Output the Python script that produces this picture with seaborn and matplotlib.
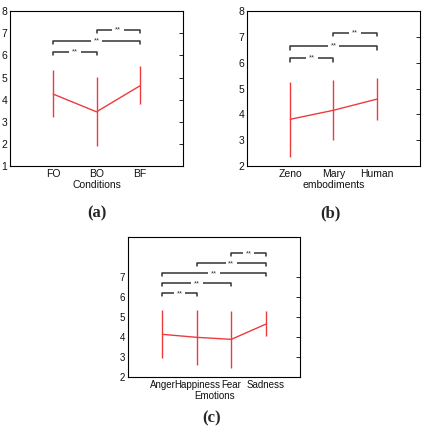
import numpy as np
import pandas as pd
import seaborn as sns
import matplotlib
matplotlib.use('Agg')
import matplotlib.pyplot as plt

# Panel (a)
cond_labels = ['FO', 'BO', 'BF']
cond_mean = [4.25, 3.45, 4.62]
cond_low = [3.2, 1.9, 3.8]
cond_high = [5.32, 5.02, 5.5]
cond_pairs = [(0, 1), (0, 2), (1, 2)]
cond_levels = [6.17, 6.66, 7.15]

# Panel (b)
emb_labels = ['Zeno', 'Mary', 'Human']
emb_mean = [3.81, 4.16, 4.59]
emb_low = [2.35, 3.0, 3.78]
emb_high = [5.26, 5.33, 5.4]
emb_pairs = [(0, 1), (0, 2), (1, 2)]
emb_levels = [6.17, 6.66, 7.17]

# Panel (c)
emo_labels = ['Anger', 'Happiness', 'Fear', 'Sadness']
emo_mean = [4.15, 4.0, 3.9, 4.66]
emo_low = [2.98, 2.63, 2.45, 4.08]
emo_high = [5.37, 5.35, 5.33, 5.3]
emo_pairs = [(0, 1), (0, 2), (0, 3), (1, 3), (2, 3)]
emo_levels = [6.2, 6.7, 7.2, 7.7, 8.2]

RED = '#ec3b3f'
GREY = '#333333'


def draw_panel(ax, labels, mean, low, high, pairs, levels, xlabel, ylim, yticks, fs):
    pos = np.arange(1, len(labels) + 1)
    df = pd.DataFrame({'x': pos, 'y': mean})
    sns.lineplot(data=df, x='x', y='y', ax=ax, color=RED, lw=1.0)
    ax.vlines(pos, low, high, color=RED, lw=1.0)
    for (i, j), h in zip(pairs, levels):
        x1, x2 = pos[i], pos[j]
        ax.plot([x1, x1, x2, x2], [h - 0.15, h, h, h - 0.15], color=GREY, lw=1.1)
        ax.text((x1 + x2) / 2, h, '**', ha='center', va='center', fontsize=5.5,
                color=GREY, bbox=dict(facecolor='white', edgecolor='none', pad=2))
    ax.set_xlim(0, len(labels) + 1)
    ax.set_ylim(*ylim)
    ax.set_yticks(yticks)
    ax.set_xticks(pos)
    ax.set_xticklabels(labels, fontsize=fs)
    ax.tick_params(axis='y', labelsize=fs)
    ax.tick_params(direction='in', length=3, width=0.6, right=True, pad=2,
                   colors='black', labelcolor='#111111')
    ax.set_xlabel(xlabel, fontsize=fs, labelpad=1, color='#111111')
    ax.set_ylabel('')
    for s in ax.spines.values():
        s.set_linewidth(0.8)
        s.set_color('black')


sns.set_style('white')
plt.rcParams['font.family'] = ['Liberation Sans', 'DejaVu Sans']
fig = plt.figure(figsize=(4.24, 4.29), dpi=100)

ax_a = fig.add_axes([0.0236, 0.613, 0.408, 0.361])
draw_panel(ax_a, cond_labels, cond_mean, cond_low, cond_high, cond_pairs, cond_levels,
           'Conditions', (1, 8), range(1, 9), 7.5)
ax_b = fig.add_axes([0.5825, 0.613, 0.408, 0.361])
draw_panel(ax_b, emb_labels, emb_mean, emb_low, emb_high, emb_pairs, emb_levels,
           'embodiments', (2, 8), range(2, 9), 7.5)
ax_c = fig.add_axes([0.302, 0.1205, 0.406, 0.326])
draw_panel(ax_c, emo_labels, emo_mean, emo_low, emo_high, emo_pairs, emo_levels,
           'Emotions', (2, 9), range(2, 8), 7)

for txt, x, y in [('(a)', 97 / 424, 1 - 213 / 429), ('(b)', 330 / 424, 1 - 213 / 429),
                  ('(c)', 212 / 424, 1 - 418 / 429)]:
    fig.text(x, y, txt, ha='center', va='center', fontsize=12, fontweight='bold',
             family='Liberation Serif')

fig.savefig('out.png', dpi=100)
